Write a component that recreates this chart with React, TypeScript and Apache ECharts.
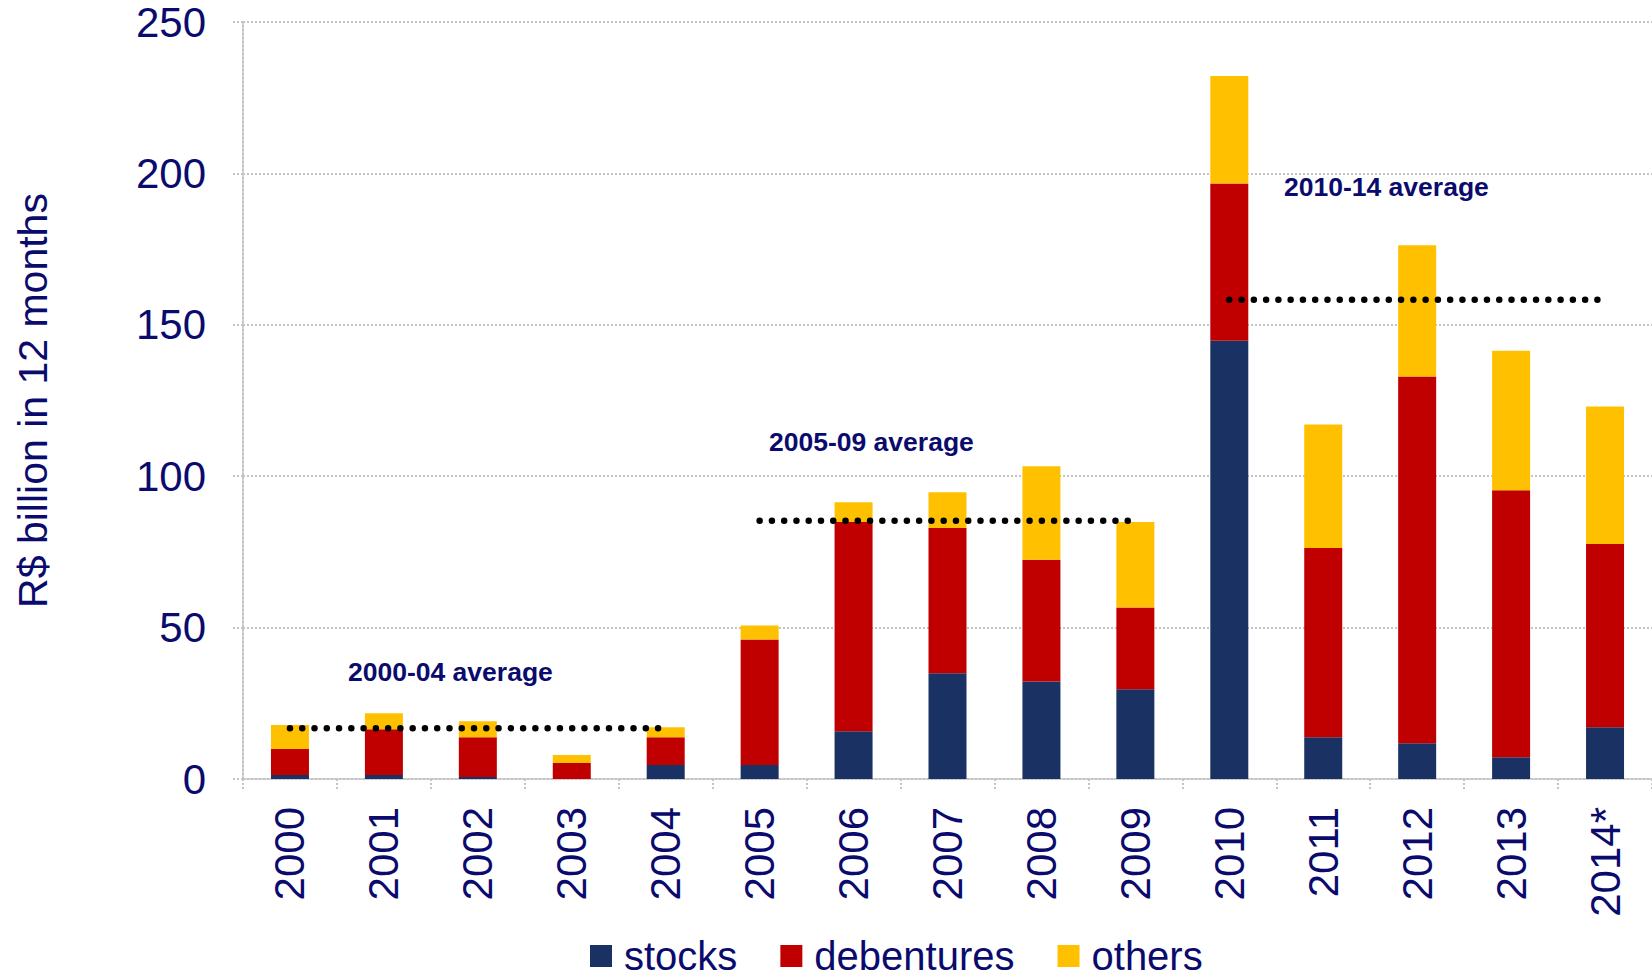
import React, { useEffect, useRef } from "react";
import * as echarts from "echarts";

const categories = ["2000", "2001", "2002", "2003", "2004", "2005", "2006", "2007", "2008", "2009", "2010", "2011", "2012", "2013", "2014*"];
const stocks = [1.3, 1.3, 0.7, 0, 4.6, 4.6, 15.8, 34.9, 32.2, 29.6, 144.7, 13.8, 11.8, 7.2, 17.1];
const debentures = [8.6, 15.1, 13.1, 5.3, 9.2, 41.5, 69.1, 48.0, 40.2, 27.0, 52.0, 62.5, 121.1, 88.2, 60.5];
const others = [7.9, 5.3, 5.3, 2.6, 3.3, 4.6, 6.5, 11.8, 30.9, 28.3, 35.5, 40.8, 43.4, 46.0, 45.4];
const periodLabels = ["2000-04 average", "2005-09 average", "2010-14 average"];
const periodStart = [0, 5, 10];
const periodLength = 5;
const periodAverages = [16.8, 85.3, 158.3];
const yTicks = [0, 50, 100, 150, 200, 250];

const FONT = "'Liberation Sans', Arial, Helvetica, sans-serif";
const NAVY = "#0b0b6e";
const GRID = "#c4c4c4";

export default function App() {
  const ref = useRef<HTMLDivElement>(null);
  useEffect(() => {
    if (!ref.current) return;
    const chart = echarts.init(ref.current, undefined, { renderer: "svg" });
    const avgSeries = periodAverages.map((avg, k) => ({
      name: periodLabels[k],
      type: "line",
      z: 5,
      symbol: "none",
      silent: true,
      data: categories.map((_, i) =>
        i >= periodStart[k] && i < periodStart[k] + periodLength ? avg : null
      ),
      lineStyle: { color: "#000", width: 6.5, type: [0, 12.27], cap: "round" },
    }));
    const labelPos = [
      { x: 348, y: 673 },
      { x: 769, y: 443 },
      { x: 1284, y: 188 },
    ];
    chart.setOption({
      animation: false,
      backgroundColor: "#fff",
      textStyle: { fontFamily: FONT },
      grid: { left: 243, top: 22, width: 1411, height: 757, containLabel: false },
      legend: {
        data: ["stocks", "debentures", "others"],
        left: 585,
        top: 931,
        itemWidth: 22,
        itemHeight: 22,
        itemGap: 43,
        icon: "rect",
        textStyle: { fontSize: 40, lineHeight: 40, color: NAVY, fontFamily: FONT, padding: [0, 0, 0, 7] },
      },
      xAxis: {
        type: "category",
        data: categories,
        boundaryGap: true,
        axisLine: { show: true, lineStyle: { color: GRID, width: 2, type: [2, 2] } },
        axisTick: { show: true, length: 11, lineStyle: { color: GRID, width: 2, type: [2, 2] } },
        axisLabel: { rotate: 90, fontSize: 42, color: NAVY, margin: 28, fontFamily: FONT, interval: 0 },
        splitLine: { show: false },
      },
      yAxis: {
        type: "value",
        min: yTicks[0],
        max: yTicks[yTicks.length - 1],
        interval: 50,
        name: "R$ billion in 12 months",
        nameLocation: "middle",
        nameRotate: 90,
        nameGap: 190,
        nameTextStyle: { fontSize: 41, color: NAVY, fontFamily: FONT },
        axisLine: { show: true, lineStyle: { color: GRID, width: 2, type: [2, 2] } },
        axisTick: { show: true, length: 12, lineStyle: { color: GRID, width: 2, type: [2, 2] } },
        axisLabel: { fontSize: 42, lineHeight: 38, color: NAVY, margin: 37, fontFamily: FONT },
        splitLine: { show: true, lineStyle: { color: GRID, width: 2, type: [2, 2] } },
      },
      series: [
        { name: "stocks", type: "bar", stack: "total", barWidth: 38, data: stocks, itemStyle: { color: "#1a3263" } },
        { name: "debentures", type: "bar", stack: "total", barWidth: 38, data: debentures, itemStyle: { color: "#c00000" } },
        { name: "others", type: "bar", stack: "total", barWidth: 38, data: others, itemStyle: { color: "#ffc000" } },
        ...avgSeries,
      ],
      graphic: periodLabels.map((t, k) => ({
        type: "text",
        left: labelPos[k].x,
        top: labelPos[k].y - 15,
        z: 10,
        style: { text: t, fontSize: 26.5, fontWeight: "bold", fill: NAVY, fontFamily: FONT },
      })),
    });
    return () => chart.dispose();
  }, []);
  return (
    <div
      ref={ref}
      style={{ position: "absolute", left: 0, top: 0, width: 1652, height: 980 }}
    />
  );
}
